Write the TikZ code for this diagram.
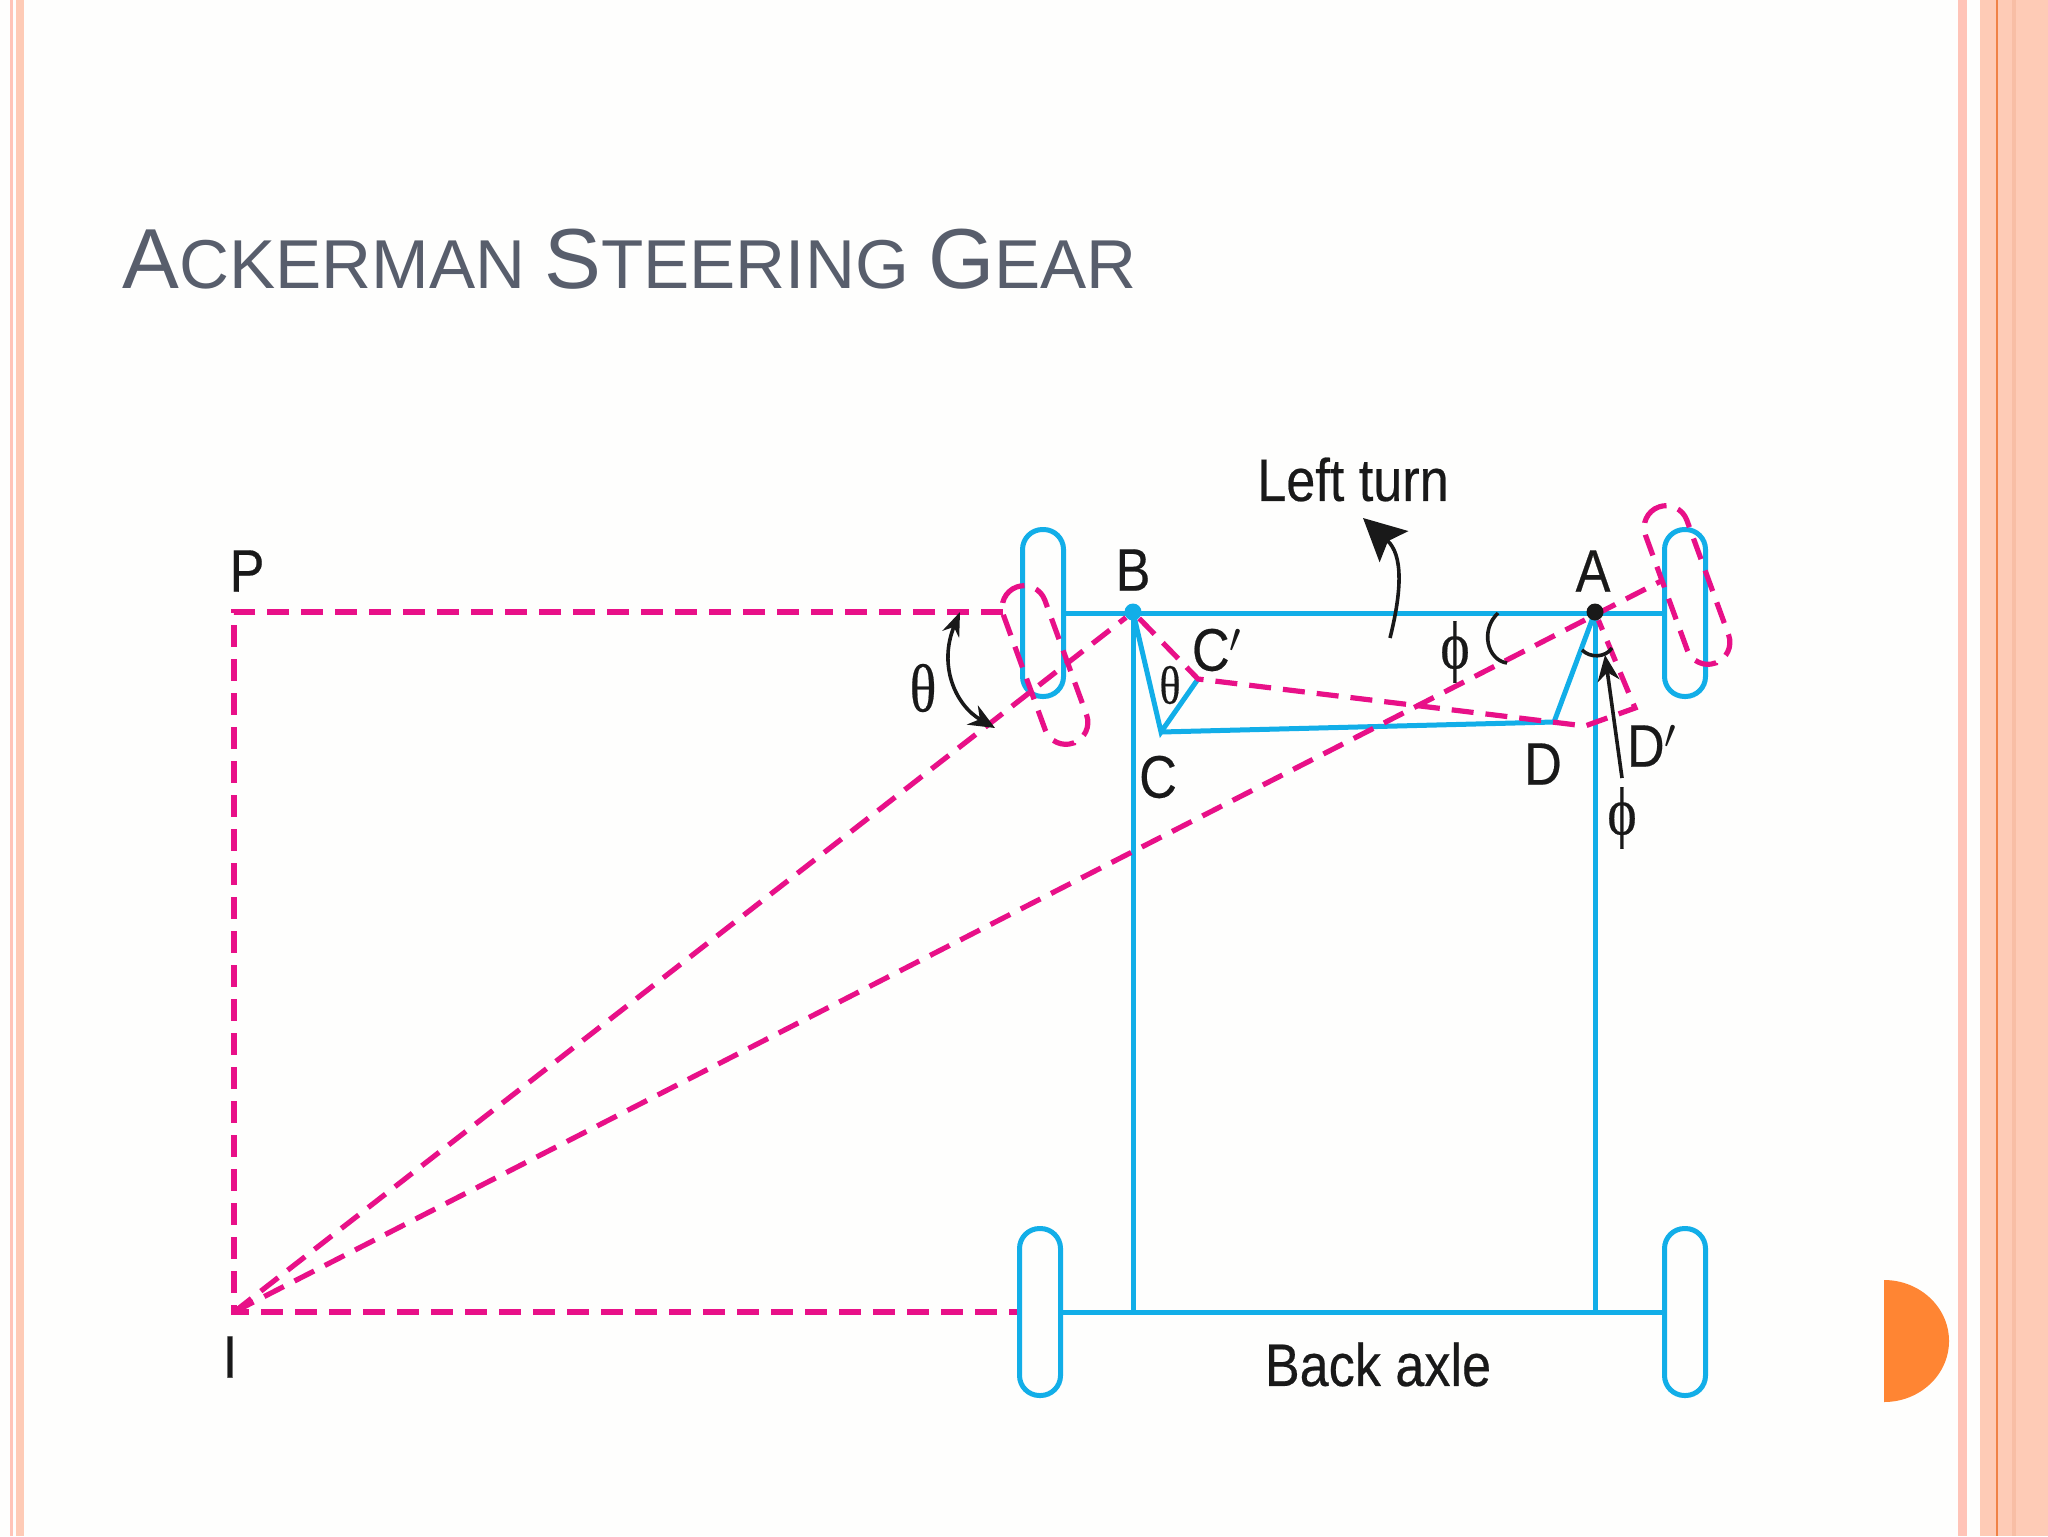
\documentclass[tikz,border=0pt]{standalone}
\usepackage{fontspec}
\setmainfont{Liberation Sans}
\newfontfamily\narrowfont[FakeStretch=0.87,FakeBold=0.35]{Liberation Sans}
\newfontfamily\greekfont[FakeStretch=0.82,FakeBold=0.3]{Liberation Serif}
\usetikzlibrary{arrows.meta}
\definecolor{axleblue}{RGB}{18,174,232}
\definecolor{turnpink}{RGB}{232,16,136}
\definecolor{titlegrey}{RGB}{88,94,108}
\definecolor{paperwhite}{RGB}{254,254,253}
\definecolor{bandsalmon}{RGB}{254,203,182}
\definecolor{banddark}{RGB}{248,190,165}
\definecolor{bandpink}{RGB}{255,196,184}
\definecolor{bandorange}{RGB}{240,130,70}
\definecolor{dotorange}{RGB}{255,133,51}
\tikzset{
	axle/.style={draw=axleblue,line width=2.5pt},
	turnline/.style={draw=turnpink,line width=2.6pt,dash pattern=on 11pt off 6pt},
	wheel/.style={axle,rectangle,rounded corners=10pt,inner sep=0pt,minimum width=20.5pt,minimum height=83.5pt},
	turnwheel/.style={turnline,rectangle,rounded corners=11pt,inner sep=0pt,minimum width=22pt,minimum height=83pt,rotate=20},
	pivot/.style={circle,inner sep=0pt,minimum size=8.5pt},
	letter/.style={inner sep=0pt,font=\narrowfont\fontsize{30pt}{30pt}\selectfont,text=black!90},
	angle/.style={inner sep=0pt,text=black!90},
	pointer/.style={draw=black!90,line width=1.8pt}
}
\begin{document}
\begin{tikzpicture}[x=0.5pt,y=0.5pt,yscale=-1,xscale=1]
	\useasboundingbox (0,0) rectangle (2048,1536);
	% Background and side bands
	\fill [paperwhite] (0,0) rectangle (2048,1536);
	\fill [bandpink] (10,0) rectangle (13,1536);
	\fill [bandsalmon] (16,0) rectangle (24,1536);
	\fill [bandpink] (1958,0) rectangle (1967,1536);
	\fill [bandsalmon] (1980,0) rectangle (2048,1536);
	\fill [bandorange] (1996,0) rectangle (1998,1536);
	\fill [banddark] (2012,0) rectangle (2016,1536);
	\fill [dotorange] (1884,1280) arc (-90:90:65 and 61) -- cycle;

	% Title
	\node (title) [anchor=base west,inner sep=0pt,text=titlegrey,font=\fontsize{34.6pt}{35pt}\selectfont] at (122,288)
		{{\fontsize{42.6pt}{43pt}\selectfont A}CKERMAN {\fontsize{42.6pt}{43pt}\selectfont S}TEERING {\fontsize{42.6pt}{43pt}\selectfont G}EAR};

	% Points
	\coordinate (P) at (234,612);
	\coordinate (I) at (234,1312);
	\coordinate (C) at (1161,732);
	\coordinate (Cd) at (1198,679);
	\coordinate (D) at (1554,722);
	\coordinate (Dd) at (1635,708);
	\coordinate (Dlow) at (1585,726);
	\coordinate (Pend) at (1003,612);
	\coordinate (Aend) at (1663,580);
	\coordinate (Bfoot) at (1133,1312);
	\coordinate (Afoot) at (1595,1312);

	% Wheels
	\node (wheelfl) [wheel] at (1043,613) {};
	\node (wheelfr) [wheel] at (1685,613) {};
	\node (wheelbl) [wheel] at (1040,1312) {};
	\node (wheelbr) [wheel] at (1685,1312) {};
	\node (turnfl) [turnwheel] at (1045,665) {};
	\node (turnfr) [turnwheel] at (1687,585) {};
	\node (B) [pivot] at (1133,612) {};
	\node (A) [pivot] at (1595,612) {};

	% Frame and steering links
	\draw [axle] (wheelfl) -- (wheelfr);
	\draw [axle] (wheelbl) -- (wheelbr);
	\draw [axle] (B.center) -- (Bfoot);
	\draw [axle] (A.center) -- (Afoot);
	\draw [axle,line join=miter] (B.center) -- (C) -- (Cd);
	\draw [axle] (C) -- (D) -- (A.center);

	% Turned position
	\draw [turnline] (Pend) -- (P) -- (I) -- (wheelbl);
	\draw [turnline] (I) -- (B);
	\draw [turnline] (I) -- (Aend);
	\draw [turnline] (B) -- (Cd) -- (Dlow) -- (Dd) -- (A);
	\node [pivot,fill=axleblue] at (B) {};
	\node [pivot,fill=black!90] at (A) {};

	% Pointers
	\coordinate (thetaup) at (960,612);
	\coordinate (thetadown) at (995,728);
	\coordinate (turnfoot) at (1390,638);
	\coordinate (turntip) at (1363,518);
	\coordinate (phifoot) at (1622,778);
	\coordinate (phitip) at (1605,655);
	\draw [pointer,{Stealth[length=12pt,width=9pt]}-{Stealth[length=13pt,width=11pt]}] (thetaup) .. controls (938,665) and (955,705) .. (thetadown);
	\draw [pointer,-{Stealth[length=21pt,width=21pt,inset=4pt]}] (turnfoot) .. controls (1402,590) and (1403,555) .. (turntip);
	\draw [pointer,-{Stealth[length=13pt,width=11pt]}] (phifoot) -- (phitip);
	\draw [pointer] (1498,613) .. controls (1480,630) and (1487,660) .. (1507,663);
	\draw [pointer] (1582,650) .. controls (1590,658) and (1605,658) .. (1612,648);

	% Text Node
	\node (lblP) [letter] at (247,571) {P};
	\node (lblI) [letter] at (230,1357) {I};
	\node (lblB) [letter] at (1133,570) {B};
	\node (lblA) [letter] at (1593,571) {A};
	\node (lblC) [letter] at (1158,777) {C};
	\node (lblCd) [letter] at (1217,650) {C$'$};
	\node (lblD) [letter] at (1543,764) {D};
	\node (lblDd) [letter] at (1652,746) {D$'$};
	\node (lblturn) [letter] at (1353,479.5) {Left turn};
	\node (lblaxle) [letter] at (1378,1364.5) {Back axle};
	\node (lbltheta) [angle,font=\greekfont\fontsize{34pt}{34pt}\selectfont] at (923,688) {θ};
	\node (lblthetas) [angle,font=\greekfont\fontsize{27pt}{27pt}\selectfont] at (1170,685) {θ};
	\node (lblphi) [angle,font=\greekfont\fontsize{34pt}{34pt}\selectfont] at (1455,652) {ϕ};
	\node (lblphis) [angle,font=\greekfont\fontsize{34pt}{34pt}\selectfont] at (1622,818) {ϕ};
\end{tikzpicture}
\end{document}
